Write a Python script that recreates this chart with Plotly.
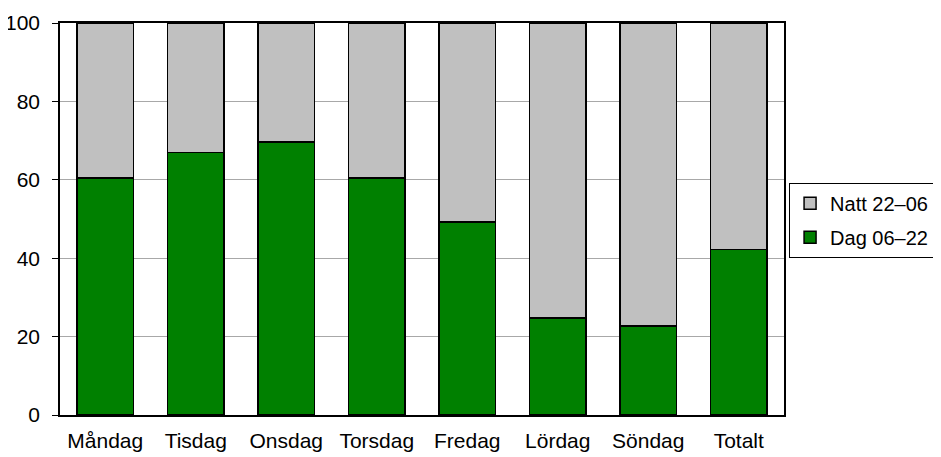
import plotly.graph_objects as go

days = ['Måndag', 'Tisdag', 'Onsdag', 'Torsdag', 'Fredag', 'Lördag', 'Söndag', 'Totalt']
dag = [60.4, 67.0, 69.6, 60.4, 49.2, 24.8, 22.7, 42.2]
natt = [39.6, 33.0, 30.4, 39.6, 50.8, 75.2, 77.3, 57.8]

FONT = 'Liberation Sans, Arial, sans-serif'

fig = go.Figure()

fig.add_trace(go.Bar(
    x=days,
    y=dag,
    name='Dag 06–22',
    legendgroup='dag',
    legendrank=2,
    marker=dict(color='#008000', line=dict(color='black', width=1.5)),
))

fig.add_trace(go.Bar(
    x=days,
    y=natt,
    name='Natt 22–06',
    legendgroup='natt',
    legendrank=1,
    marker=dict(color='#c0c0c0', line=dict(color='black', width=1.5)),
))

# the page body has an 8px margin, so the figure is made 8px smaller
fig.update_layout(
    width=933,
    height=449,
    barmode='stack',
    bargap=0.38,
    plot_bgcolor='white',
    paper_bgcolor='white',
    font=dict(family=FONT, size=21, color='black'),
    margin=dict(l=52, r=157, t=15, b=42, autoexpand=False),
    legend=dict(
        x=1.007,
        y=0.497,
        xanchor='left',
        yanchor='middle',
        traceorder='grouped',
        tracegroupgap=5,
        bordercolor='black',
        borderwidth=1,
        font=dict(family=FONT, size=20),
    ),
)

fig.update_xaxes(
    automargin=False,
    showline=True,
    linecolor='black',
    linewidth=1.5,
    mirror=True,
    ticks='',
    ticklabelstandoff=6,
)

fig.update_yaxes(
    automargin=False,
    range=[0, 100],
    dtick=20,
    showline=True,
    linecolor='black',
    linewidth=1.5,
    mirror=True,
    ticks='outside',
    ticklen=6,
    tickcolor='black',
    ticklabelstandoff=8,
    showgrid=True,
    gridcolor='#a8a8a8',
    gridwidth=1,
    zeroline=False,
)

fig.write_html("out.html")
